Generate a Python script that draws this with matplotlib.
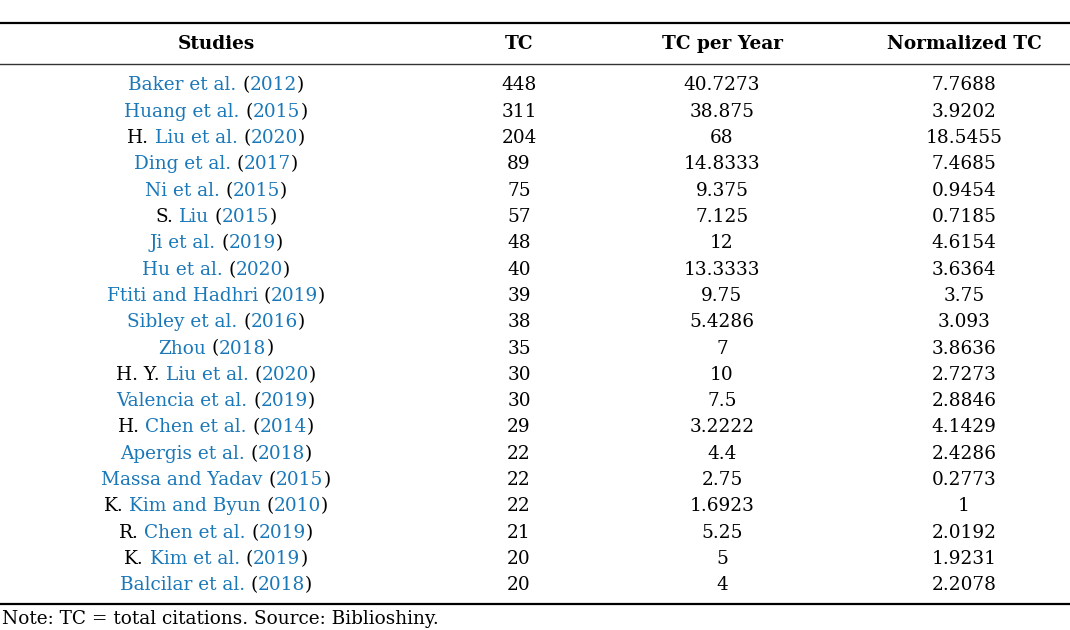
import matplotlib
matplotlib.use('Agg')
import matplotlib.pyplot as plt

# table data
prefixes = ['', '', 'H.', '', '', 'S.', '', '', '', '', '', 'H. Y.', '', 'H.', '', '', 'K.', 'R.', 'K.', '']
authors = ['Baker et al.', 'Huang et al.', 'Liu et al.', 'Ding et al.', 'Ni et al.', 'Liu', 'Ji et al.',
           'Hu et al.', 'Ftiti and Hadhri', 'Sibley et al.', 'Zhou', 'Liu et al.', 'Valencia et al.',
           'Chen et al.', 'Apergis et al.', 'Massa and Yadav', 'Kim and Byun', 'Chen et al.',
           'Kim et al.', 'Balcilar et al.']
years = [2012, 2015, 2020, 2017, 2015, 2015, 2019, 2020, 2019, 2016, 2018, 2020, 2019, 2014,
         2018, 2015, 2010, 2019, 2019, 2018]
tc = [448, 311, 204, 89, 75, 57, 48, 40, 39, 38, 35, 30, 30, 29, 22, 22, 22, 21, 20, 20]
tc_per_year = ['40.7273', '38.875', '68', '14.8333', '9.375', '7.125', '12', '13.3333', '9.75', '5.4286',
               '7', '10', '7.5', '3.2222', '4.4', '2.75', '1.6923', '5.25', '5', '4']
norm_tc = ['7.7688', '3.9202', '18.5455', '7.4685', '0.9454', '0.7185', '4.6154', '3.6364', '3.75',
           '3.093', '3.8636', '2.7273', '2.8846', '4.1429', '2.4286', '0.2773', '1', '2.0192',
           '1.9231', '2.2078']
headers = ['Studies', 'TC', 'TC per Year', 'Normalized TC']
note = 'Note: TC = total citations. Source: Biblioshiny.'

blue = '#1b78b8'
fnt = dict(family='DejaVu Serif', fontsize=13.3)
col_x = [216, 519, 722, 964]

fig = plt.figure(figsize=(10.7, 6.3), dpi=100)
ax = fig.add_axes([0, 0, 1, 1])
ax.set_xlim(0, 1070)
ax.set_ylim(630, 0)
ax.axis('off')
r = fig.canvas.get_renderer()

def width(s):
    t = ax.text(0, 0, s, **fnt)
    w = t.get_window_extent(r).width
    t.remove()
    return w

sp = width('a a') - width('aa')

def draw_parts(xc, y, parts):
    # parts: list of (text, color, space_after)
    ws = [width(p[0]) for p in parts]
    total = sum(ws) + sum(sp for p in parts if p[2])
    x = xc - total / 2
    for (s, c, gap), w in zip(parts, ws):
        ax.text(x, y, s, color=c, ha='left', va='baseline', **fnt)
        x += w + (sp if gap else 0)

# rules
ax.axhline(23, color='black', lw=1.6)
ax.axhline(63.5, color='#333333', lw=1.0)
ax.axhline(604, color='black', lw=1.6)

for x, h in zip(col_x, headers):
    ax.text(x, 49, h, ha='center', va='baseline', fontweight='bold', **fnt)

y0, dy = 90.5, 26.3
for i in range(len(authors)):
    y = y0 + i * dy
    parts = []
    if prefixes[i]:
        parts.append((prefixes[i], 'black', True))
    parts += [(authors[i], blue, True), ('(', 'black', False), (str(years[i]), blue, False), (')', 'black', False)]
    draw_parts(col_x[0], y, parts)
    ax.text(col_x[1], y, str(tc[i]), ha='center', va='baseline', **fnt)
    ax.text(col_x[2], y, tc_per_year[i], ha='center', va='baseline', **fnt)
    ax.text(col_x[3], y, norm_tc[i], ha='center', va='baseline', **fnt)

ax.text(2, 624, note, ha='left', va='baseline', **fnt)

fig.savefig('out.png', dpi=100)
